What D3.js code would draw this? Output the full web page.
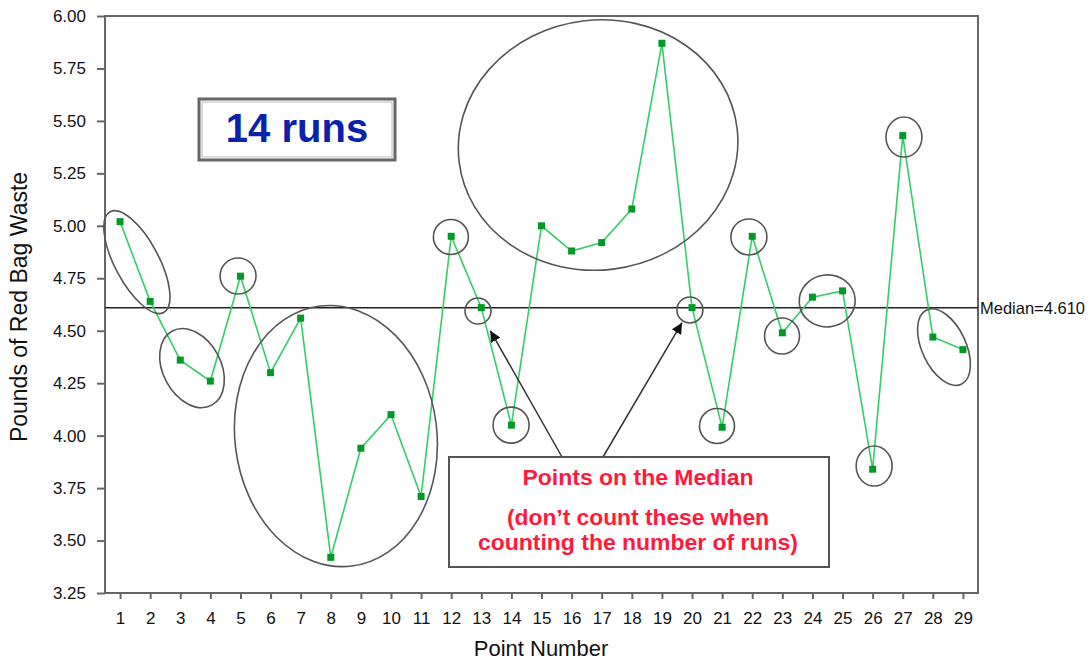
<!DOCTYPE html>
<html>
<head>
<meta charset="utf-8">
<script src="https://cdn.jsdelivr.net/npm/d3@7"></script>
<style>
  html, body { margin: 0; padding: 0; background: #fff; }
  text { font-family: "Liberation Sans", Arial, sans-serif; }
</style>
</head>
<body>
<svg id="chart" width="1092" height="664"></svg>
<script>
// ---- data ----
const pointNumbers = d3.range(1, 30);
const poundsValues = [5.02, 4.64, 4.36, 4.26, 4.76, 4.30, 4.56, 3.42, 3.94, 4.10,
                      3.71, 4.95, 4.61, 4.05, 5.00, 4.88, 4.92, 5.08, 5.87, 4.61,
                      4.04, 4.95, 4.49, 4.66, 4.69, 3.84, 5.43, 4.47, 4.41];
const yTickValues = [3.25, 3.50, 3.75, 4.00, 4.25, 4.50, 4.75, 5.00, 5.25, 5.50, 5.75, 6.00];
const medianValue = 4.610;
// run-circles: centre in data units (point number, pounds)
const runCentersX = [1.56, 3.39, 4.92, 8.17, 11.99, 12.89, 13.99, 16.88, 19.93, 20.83, 21.89, 22.99, 24.49, 26.05, 27.04, 28.37];
const runCentersY = [4.827, 4.322, 4.761, 3.998, 4.947, 4.594, 4.05, 5.385, 4.599, 4.046, 4.947, 4.475, 4.642, 3.855, 5.423, 4.422];
const medianPoints = [13, 20];

// ---- layout ----
const svg = d3.select("#chart");
const L = 105, R = 978, T = 16, B = 593;
const x = d3.scaleLinear().domain([0.5, 29.5]).range([L, R]);
const y = d3.scaleLinear().domain([3.25, 6.0]).range([B, T]);
const axisColor = "#666";

// ellipse shapes (pixel radii, rotation in degrees)
const runShapes = [
  {rx: 57, ry: 22, rot: 62},
  {rx: 42, ry: 29, rot: 62},
  {rx: 18, ry: 18, rot: 0},
  {rx: 101, ry: 131, rot: -7},
  {rx: 17.5, ry: 17.5, rot: 0},
  {rx: 13, ry: 13, rot: 0},
  {rx: 18, ry: 18, rot: 0},
  {rx: 140, ry: 125, rot: -7},
  {rx: 13, ry: 13, rot: 0},
  {rx: 17.5, ry: 17.5, rot: 0},
  {rx: 18, ry: 18, rot: 0},
  {rx: 17.5, ry: 18, rot: 0},
  {rx: 28, ry: 26, rot: -5},
  {rx: 18, ry: 20, rot: 0},
  {rx: 18, ry: 20, rot: 0},
  {rx: 41, ry: 22, rot: 65}
];

// frame
svg.append("rect").attr("x", L).attr("y", T).attr("width", R - L).attr("height", B - T)
  .attr("fill", "none").attr("stroke", axisColor).attr("stroke-width", 2);

// y axis
const yAxis = svg.append("g").attr("transform", `translate(${L},0)`)
  .call(d3.axisLeft(y).tickValues(yTickValues).tickFormat(d3.format(".2f"))
        .tickSize(8).tickPadding(11).tickSizeOuter(0));
yAxis.select(".domain").remove();
yAxis.selectAll("line").attr("stroke", axisColor).attr("stroke-width", 2);
yAxis.selectAll("text").attr("font-size", 17).attr("fill", "#111")
  .attr("font-family", "Liberation Sans, Arial, sans-serif");

// x axis
const xAxis = svg.append("g").attr("transform", `translate(0,${B})`)
  .call(d3.axisBottom(x).tickValues(pointNumbers).tickFormat(d3.format("d"))
        .tickSize(6).tickPadding(13).tickSizeOuter(0));
xAxis.select(".domain").remove();
xAxis.selectAll("line").attr("stroke", axisColor).attr("stroke-width", 2);
xAxis.selectAll("text").attr("font-size", 17).attr("fill", "#111")
  .attr("font-family", "Liberation Sans, Arial, sans-serif");

// axis titles
svg.append("text").attr("transform", `translate(27,307) rotate(-90)`)
  .attr("text-anchor", "middle").attr("font-size", 23).attr("fill", "#111")
  .text("Pounds of Red Bag Waste");
svg.append("text").attr("x", 541).attr("y", 656)
  .attr("text-anchor", "middle").attr("font-size", 22).attr("fill", "#111")
  .text("Point Number");

// median line
svg.append("line").attr("x1", L).attr("x2", R).attr("y1", y(medianValue)).attr("y2", y(medianValue))
  .attr("stroke", "#222").attr("stroke-width", 1.5);
svg.append("text").attr("x", R + 2).attr("y", y(medianValue) + 6)
  .attr("font-size", 16.5).attr("fill", "#111")
  .text("Median=" + medianValue.toFixed(3));

// data line
const series = pointNumbers.map((p, i) => ({p, v: poundsValues[i]}));
svg.append("path").datum(series)
  .attr("fill", "none").attr("stroke", "#33cc66").attr("stroke-width", 1.6)
  .attr("d", d3.line().x(d => x(d.p)).y(d => y(d.v)));
svg.selectAll("rect.pt").data(series).enter().append("rect").attr("class", "pt")
  .attr("x", d => x(d.p) - 3.5).attr("y", d => y(d.v) - 3.5)
  .attr("width", 7).attr("height", 7).attr("fill", "#009926");

// run ellipses
svg.selectAll("ellipse.run").data(runCentersX.map((cx, i) => ({cx, cy: runCentersY[i], s: runShapes[i]})))
  .enter().append("ellipse").attr("class", "run")
  .attr("transform", d => `translate(${x(d.cx)},${y(d.cy)}) rotate(${d.s.rot})`)
  .attr("rx", d => d.s.rx).attr("ry", d => d.s.ry)
  .attr("fill", "none").attr("stroke", "#555").attr("stroke-width", 1.6);

// arrows
const defs = svg.append("defs");
defs.append("marker").attr("id", "arrow").attr("viewBox", "0 0 10 10")
  .attr("refX", 10).attr("refY", 5).attr("markerWidth", 11).attr("markerHeight", 11)
  .attr("markerUnits", "userSpaceOnUse").attr("orient", "auto")
  .append("path").attr("d", "M0,0 L10,5 L0,10 z").attr("fill", "#111");
const arrowTails = [[562, 457], [603, 457]];
const arrowOffsets = [[9, 23], [-10, 15]];
medianPoints.forEach((p, i) => {
  svg.append("line")
    .attr("x1", arrowTails[i][0]).attr("y1", arrowTails[i][1])
    .attr("x2", x(p) + arrowOffsets[i][0]).attr("y2", y(poundsValues[p - 1]) + arrowOffsets[i][1])
    .attr("stroke", "#333").attr("stroke-width", 1.5).attr("marker-end", "url(#arrow)");
});

// note box
svg.append("rect").attr("x", 449).attr("y", 457).attr("width", 380).attr("height", 110)
  .attr("fill", "#fff").attr("stroke", "#555").attr("stroke-width", 2);
const noteLines = [
  {t: "Points on the Median", yy: 485, w: 231},
  {t: "(don\u2019t count these when", yy: 525, w: 262},
  {t: "counting the number of runs)", yy: 550, w: 320}
];
noteLines.forEach(l => {
  svg.append("text").attr("x", 638).attr("y", l.yy).attr("text-anchor", "middle")
    .attr("font-size", 22).attr("font-weight", "bold").attr("fill", "#ff1a3c")
    .attr("textLength", l.w).attr("lengthAdjust", "spacingAndGlyphs")
    .text(l.t);
});

// 14 runs box
svg.append("rect").attr("x", 199).attr("y", 99).attr("width", 196).attr("height", 61)
  .attr("fill", "#fff").attr("stroke", "#666").attr("stroke-width", 3);
svg.append("rect").attr("x", 202).attr("y", 102).attr("width", 190).attr("height", 55)
  .attr("fill", "none").attr("stroke", "#bbb").attr("stroke-width", 1);
svg.append("text").attr("x", 297).attr("y", 142).attr("text-anchor", "middle")
  .attr("font-size", 40).attr("font-weight", "bold").attr("fill", "#0a22aa")
  .text("14 runs");
</script>
</body>
</html>
